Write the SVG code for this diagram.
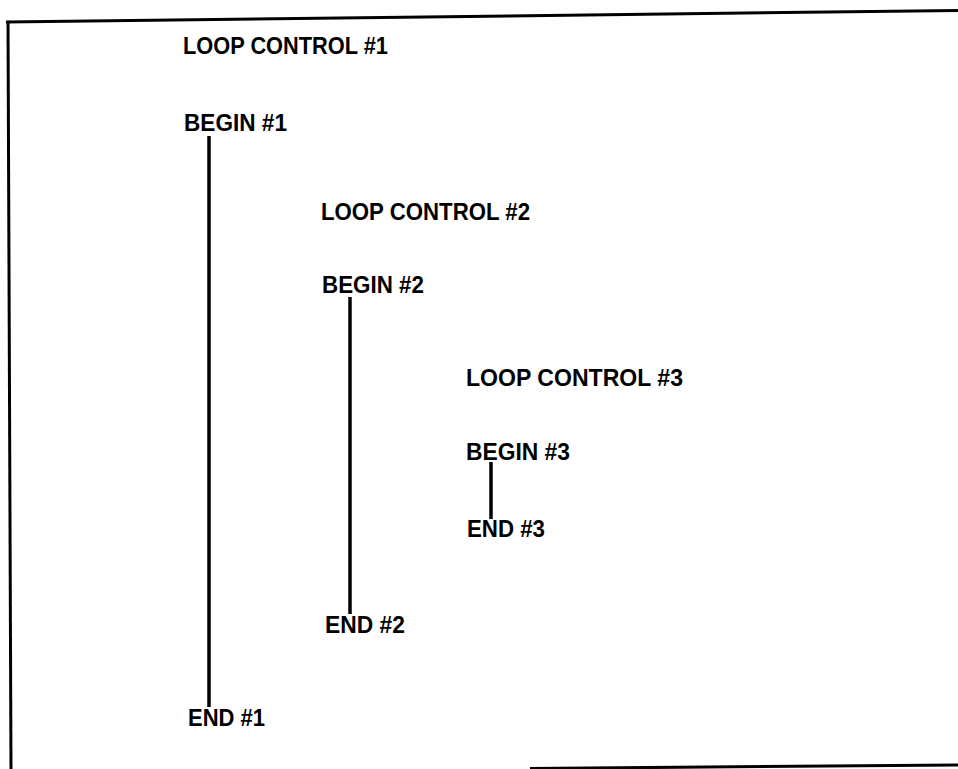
<svg xmlns="http://www.w3.org/2000/svg" width="958" height="769" viewBox="0 0 958 769">
<style>
.t{font-family:"Liberation Sans",Arial,sans-serif;font-weight:bold;font-size:23px;fill:#000}
.ln{stroke:#000;stroke-width:3.5;fill:none}
.fr{stroke:#000;stroke-width:3;fill:none}
</style>
<rect width="958" height="769" fill="#fff"/>
<g id="frame">
<path class="fr" d="M6 22 L958 10.5"/>
<path class="fr" d="M8 21 L11 769"/>
<path class="fr" d="M530 768.5 L958 765"/>
</g>
<g id="loop1">
<text class="t" x="183" y="54" textLength="205" lengthAdjust="spacingAndGlyphs">LOOP CONTROL #1</text>
</g>
<g id="begin1">
<text class="t" x="184" y="131" textLength="103" lengthAdjust="spacingAndGlyphs">BEGIN #1</text>
</g>
<g id="end1">
<text class="t" x="188" y="726" textLength="77" lengthAdjust="spacingAndGlyphs">END #1</text>
</g>
<g id="loop2">
<text class="t" x="321" y="220" textLength="209" lengthAdjust="spacingAndGlyphs">LOOP CONTROL #2</text>
</g>
<g id="begin2">
<text class="t" x="322" y="293" textLength="102" lengthAdjust="spacingAndGlyphs">BEGIN #2</text>
</g>
<g id="end2">
<text class="t" x="325" y="633" textLength="80" lengthAdjust="spacingAndGlyphs">END #2</text>
</g>
<g id="loop3">
<text class="t" x="466" y="386" textLength="217" lengthAdjust="spacingAndGlyphs">LOOP CONTROL #3</text>
</g>
<g id="begin3">
<text class="t" x="466" y="460" textLength="104" lengthAdjust="spacingAndGlyphs">BEGIN #3</text>
</g>
<g id="end3">
<text class="t" x="467" y="537" textLength="78" lengthAdjust="spacingAndGlyphs">END #3</text>
</g>
<g id="connectors">
<line class="ln" x1="209" y1="136" x2="209" y2="707"/>
<line class="ln" x1="350" y1="297" x2="350" y2="614"/>
<line class="ln" x1="491" y1="462" x2="491" y2="519"/>
</g>
</svg>
